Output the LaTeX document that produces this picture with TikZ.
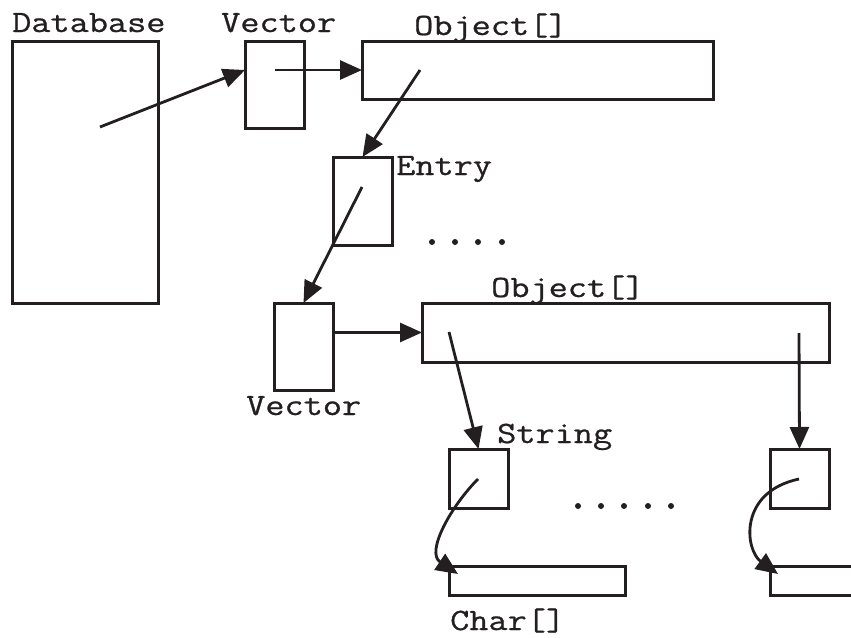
\documentclass[tikz,border=0pt]{standalone}
\usepackage{graphicx}
\usepackage{fontspec}
\newfontfamily\courf{Latin Modern Mono}[FakeBold=0.7]
\usetikzlibrary{arrows.meta,calc}
\definecolor{ink}{RGB}{35,31,32}
\tikzset{
  box/.style={draw=ink, line width=3pt, rectangle, inner sep=0pt, outer sep=0pt},
  lbl/.style={anchor=base west, inner sep=0pt, text=ink, font=\fontsize{31}{31}\selectfont\courf},
  ptr/.style={draw=ink, line width=2.8pt, -{Triangle[length=22pt,width=19pt]}},
  dotm/.style={fill=ink, circle, inner sep=0pt, minimum size=6pt}
}
\newcommand{\wide}[1]{\scalebox{1.2}[1]{#1}}
\begin{document}
\begin{tikzpicture}[x=1pt,y=-1pt]
\useasboundingbox (0,0) rectangle (851,637);
% boxes
\node[box, minimum width=146pt, minimum height=262pt] (db) at (85,172) {};
\node[box, minimum width=59pt, minimum height=87pt] (vec1) at (274.5,84.5) {};
\node[box, minimum width=351pt, minimum height=58pt] (obj1) at (537.5,70) {};
\node[box, minimum width=59pt, minimum height=88pt] (entry) at (362.5,201) {};
\node[box, minimum width=59pt, minimum height=87pt] (vec2) at (303.5,346.5) {};
\node[box, minimum width=407pt, minimum height=59pt] (obj2) at (625.5,332.5) {};
\node[box, minimum width=59pt, minimum height=59pt] (str1) at (478.5,478.5) {};
\node[box, minimum width=59pt, minimum height=59pt] (str2) at (799.5,478.5) {};
\node[box, minimum width=176pt, minimum height=29pt] (chr1) at (537,580.5) {};
\node[box, minimum width=100pt, minimum height=29pt] (chr2) at (820,580.5) {};
% labels
\node[lbl] (tdb) at (12,32) {\wide{Database}};
\node[lbl] (tvec1) at (221,32) {\wide{Vector}};
\node[lbl] (tobj1) at (414,35) {\wide{Object[]}};
\node[lbl] (tentry) at (396,175) {\wide{Entry}};
\node[lbl] (tobj2) at (491,297) {\wide{Object[]}};
\node[lbl] (tvec2) at (246,415) {\wide{Vector}};
\node[lbl] (tstr) at (497,443) {\wide{String}};
\node[lbl] (tchr) at (450,630) {\wide{Char[]}};
% start points
\coordinate (s1) at (100,127);
\coordinate (s2) at (275,70);
\coordinate (s3) at (420,70);
\coordinate (s4) at (362,187);
\coordinate (s5) at (449,332);
\coordinate (s6) at (799,333);
\coordinate (s7) at (478,479);
\coordinate (s8) at (799,479);
\coordinate (e7) at (458,574);
\coordinate (e8) at (778,574);
% pointers
\draw[ptr] (s1) -- (vec1.west |- obj1.west);
\draw[ptr] (s2) -- (obj1.west);
\draw[ptr] (s3) -- (entry.north);
\draw[ptr] (s4) -- (vec2.north);
\draw[ptr] (vec2.east |- obj2.west) -- (obj2.west);
\draw[ptr] (s5) -- (str1.north);
\draw[ptr] (s6) -- (str2.north);
\draw[ptr] (s7) .. controls (452,505) and (425,552) .. (e7);
\draw[ptr] (s8) .. controls (738,492) and (745,550) .. (e8);
% dots
\foreach \x [count=\i] in {432,455,478,502} \node[dotm] (da\i) at (\x,242) {};
\foreach \x [count=\i] in {578,601,624,648,671} \node[dotm] (db\i) at (\x,506) {};
\end{tikzpicture}
\end{document}
